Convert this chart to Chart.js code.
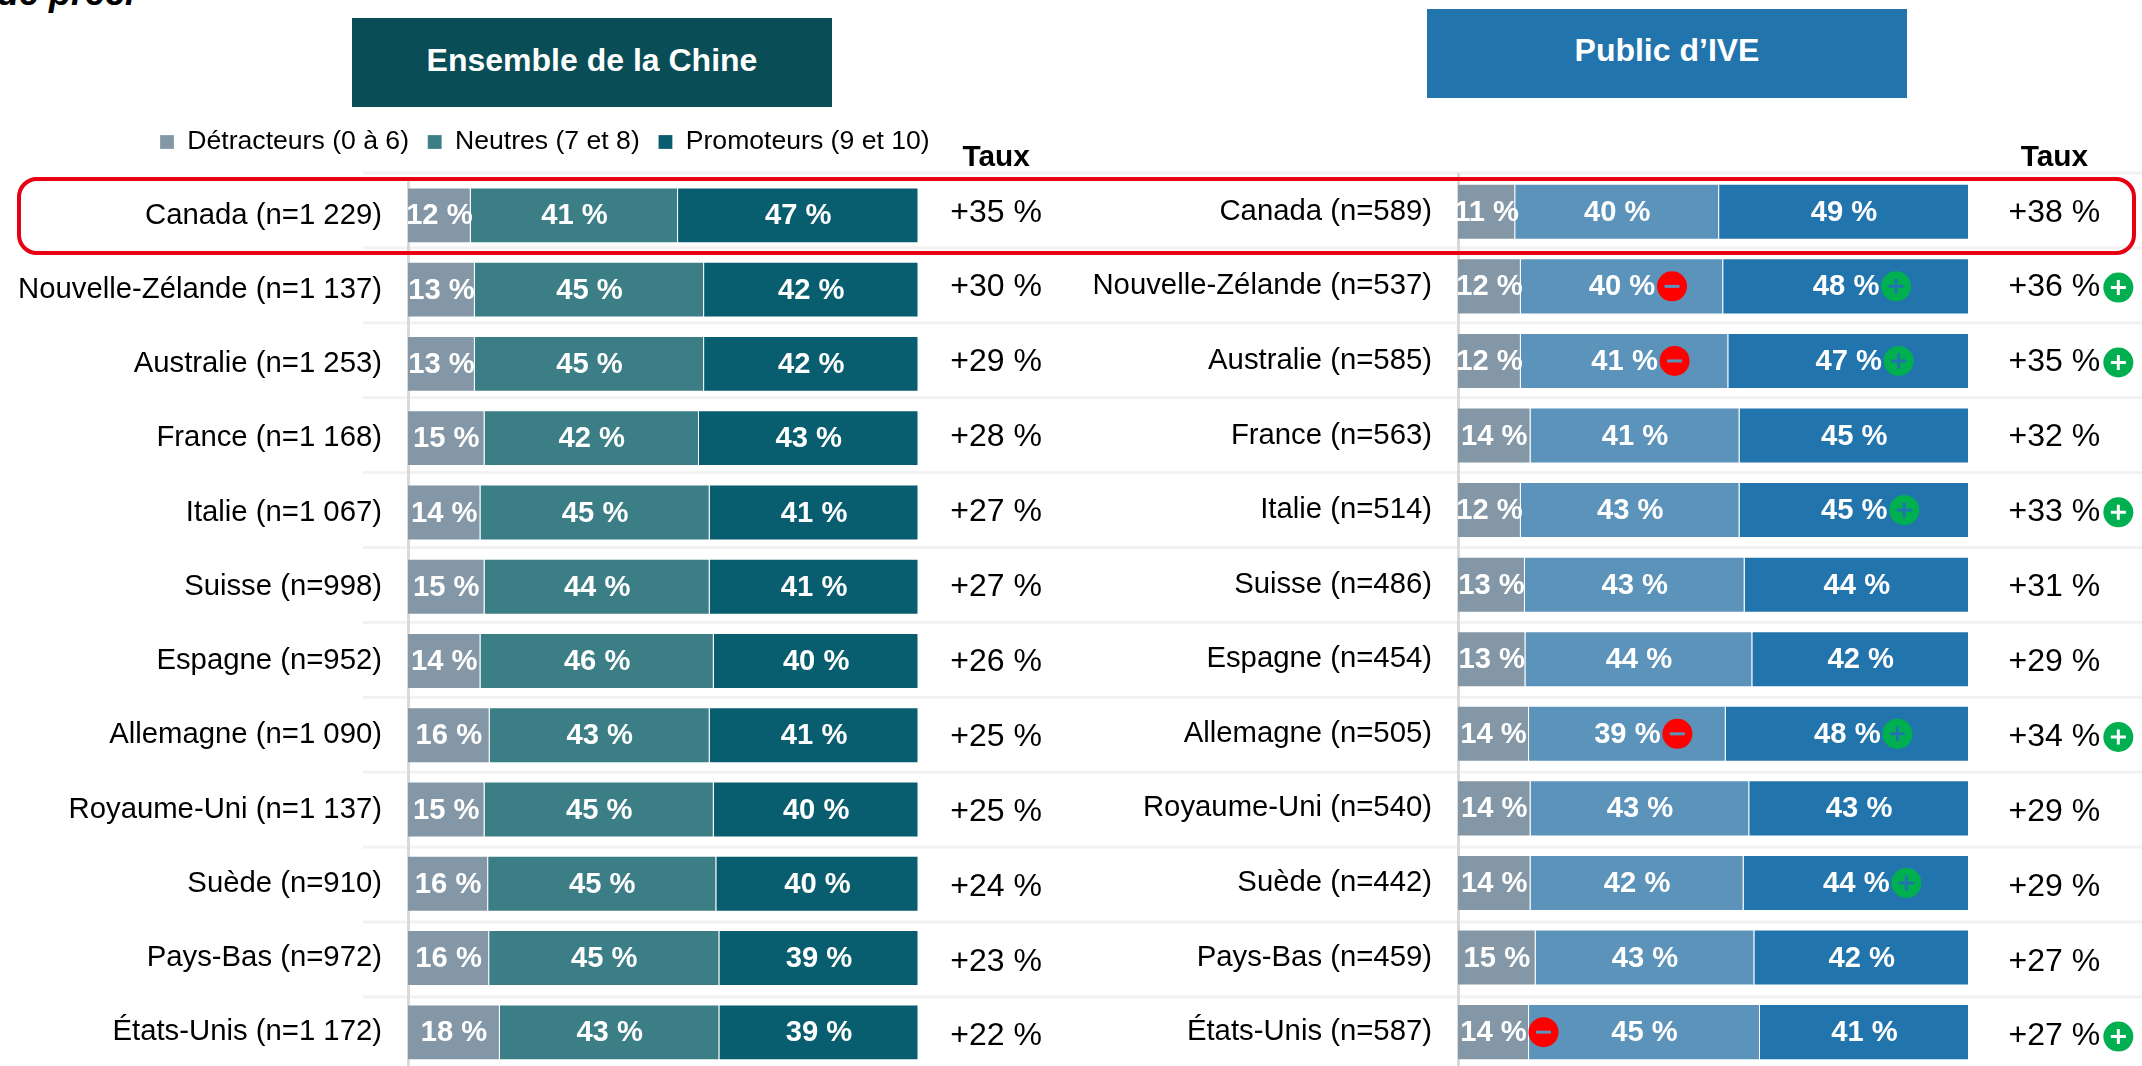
<!DOCTYPE html>
<html lang="fr">
<head>
<meta charset="utf-8">
<title>Taux de recommandation</title>
<script src="https://cdn.jsdelivr.net/npm/chart.js@4"></script>
<style>
html,body{margin:0;padding:0;background:#fff;width:2142px;height:1066px;overflow:hidden;font-family:"Liberation Sans",Arial,sans-serif}
canvas{position:absolute;left:0;top:0}
.box{position:absolute;color:#fff;font-weight:bold;font-size:32px;text-align:center;width:480px;height:89px}
.frame{position:absolute;left:17px;top:177px;width:2111px;height:70px;border:4px solid #E60012;border-radius:20px;pointer-events:none}
.cut{position:absolute;left:-3px;top:-28px;font:italic bold 36px "Liberation Sans",Arial,sans-serif;color:#000;white-space:nowrap}
</style>
</head>
<body>
<div class="cut">de préci</div>
<div class="box" style="left:352px;top:18px;background:#094D57;line-height:84px">Ensemble de la Chine</div>
<div class="box" style="left:1427px;top:9px;background:#2274AD;line-height:82px">Public d’IVE</div>
<canvas id="left" width="1100" height="1113"></canvas>
<canvas id="right" width="2142" height="1113"></canvas>
<div class="frame"></div>
<script>
const countries = ['Canada','Nouvelle-Zélande','Australie','France','Italie','Suisse','Espagne','Allemagne','Royaume-Uni','Suède','Pays-Bas','États-Unis'];
const seriesNames = ['Détracteurs (0 à 6)','Neutres (7 et 8)','Promoteurs (9 et 10)'];

const nChine = ['1 229','1 137','1 253','1 168','1 067','998','952','1 090','1 137','910','972','1 172'];
const detChine = [12.3,13.1,13.1,15.0,14.2,15.0,14.2,16.0,15.0,15.7,15.9,18.0];
const neuChine = [40.6,44.9,44.9,42.0,44.9,44.1,45.7,43.1,44.9,44.7,45.1,43.0];
const proChine = [47.1,42.0,42.0,43.0,40.9,40.9,40.1,40.9,40.1,39.6,39.0,39.0];
const tauxChine = [35,30,29,28,27,27,26,25,25,24,23,22];

const nIve = ['589','537','585','563','514','486','454','505','540','442','459','587'];
const detIve = [11.2,12.3,12.3,14.2,12.3,13.1,13.2,13.9,14.2,14.2,15.2,13.9];
const neuIve = [39.9,39.6,40.6,40.9,42.8,43.0,44.4,38.5,42.8,41.7,42.8,45.2];
const proIve = [48.9,48.1,47.1,44.9,44.9,43.9,42.4,47.6,43.0,44.1,42.0,40.9];
const tauxIve = [38,36,35,32,33,31,29,34,29,29,27,27];

// significance markers (country indices) for the IVE panel
const detMinus = [11];
const neuMinus = [1,2,7];
const proPlus = [1,2,4,7,9];
const tauxPlus = [1,2,4,7,11];

const FONT = '"Liberation Sans", Arial, sans-serif';
const SEP_TOP = 173, SEP_STEP = 74.9, SEP_COUNT = 12;
const TAUX_TOP = 212.7, TAUX_STEP = 74.9;

function marker(ctx, x, y, plus, glyphColor){
  ctx.save();
  ctx.beginPath(); ctx.arc(x, y, 15, 0, Math.PI*2);
  ctx.fillStyle = plus ? '#00B050' : '#FF0000'; ctx.fill();
  ctx.strokeStyle = glyphColor; ctx.lineWidth = 3;
  ctx.beginPath(); ctx.moveTo(x-7.5, y); ctx.lineTo(x+7.5, y);
  if(plus){ ctx.moveTo(x, y-7.5); ctx.lineTo(x, y+7.5); }
  ctx.stroke();
  ctx.restore();
}

function panelPlugin(cfg){
  return {
    id:'panel',
    beforeDraw(chart){
      const ctx = chart.ctx;
      ctx.save();
      ctx.fillStyle = '#F2F2F2';
      for(let i=0;i<SEP_COUNT;i++){
        ctx.fillRect(cfg.sepFrom, SEP_TOP+SEP_STEP*i-1.5, cfg.sepTo-cfg.sepFrom, 3);
      }
      ctx.restore();
    },
    afterDatasetsDraw(chart){
      const ctx = chart.ctx, xs = chart.scales.x;
      ctx.save();
      ctx.textBaseline='middle'; ctx.textAlign='center';
      ctx.font = 'bold 29.2px '+FONT; ctx.fillStyle='#fff';
      chart.data.datasets.forEach((ds,d)=>{
        chart.getDatasetMeta(d).data.forEach((bar,i)=>{
          ctx.fillText(Math.round(ds.data[i])+' %', (bar.x+bar.base)/2, bar.y+1);
        });
      });
      const tx = xs.getPixelForValue(cfg.tauxAt);
      ctx.fillStyle='#000';
      ctx.font='bold 29.8px '+FONT;
      ctx.fillText('Taux', tx, 158);
      ctx.font='32px '+FONT;
      cfg.taux.forEach((v,i)=>ctx.fillText('+'+v+' %', tx, TAUX_TOP+TAUX_STEP*i));
      (cfg.marks||[]).forEach(m=>{
        const meta = chart.getDatasetMeta(m.ds);
        m.rows.forEach(i=>{
          const bar = meta.data[i];
          marker(ctx,(bar.x+bar.base)/2+50,bar.y,m.plus,m.glyph);
        });
      });
      (cfg.tauxMarks||[]).forEach(i=>marker(ctx,tx+64,TAUX_TOP+TAUX_STEP*i,true,'#fff'));
      ctx.restore();
    }
  };
}

function build(id, labels, dets, neus, pros, colors, o){
  return new Chart(document.getElementById(id),{
    type:'bar',
    data:{
      labels,
      datasets:[dets,neus,pros].map((data,k)=>({
        label:seriesNames[k], data, backgroundColor:colors[k],
        borderColor:'rgba(255,255,255,0.22)', borderWidth:1,
        categoryPercentage:1, barPercentage:56/74.5, stack:'s'
      }))
    },
    options:{
      indexAxis:'y', responsive:false, animation:false,
      layout:{padding:{top:o.padTop,right:o.padRight,bottom:o.padBottom,left:o.padLeft}},
      plugins:{
        tooltip:{enabled:false},
        legend:o.legend
      },
      scales:{
        x:{position:'top',stacked:true,min:0,max:o.xMax,
           grid:{display:false},border:{display:false},ticks:{display:false},
           afterFit(s){s.height=o.xGap;}},
        y:{stacked:true,
           grid:{display:false,drawTicks:false},
           border:{display:true,color:'#D9D9D9',width:3},
           ticks:{color:'#000',padding:26,font:{family:FONT,size:29.3},autoSkip:false},
           afterFit(s){s.width=o.axisW;}}
      }
    },
    plugins:[panelPlugin(o.panel)]
  });
}

build('left', countries.map((c,i)=>`${c} (n=${nChine[i]})`), detChine, neuChine, proChine,
  ['#8497A6','#3B7E86','#085E6E'],
  {padTop:110,padRight:28.35,padBottom:32,padLeft:18,axisW:390,xGap:13,xMax:130,
   legend:{display:true,position:'top',fullSize:true,align:'center',
     labels:{color:'#000',boxWidth:14,boxHeight:14,padding:18.7,font:{family:FONT,size:26.6}}},
   panel:{sepFrom:363,sepTo:1100,tauxAt:115.2,taux:tauxChine}});

build('right', countries.map((c,i)=>`${c} (n=${nIve[i]})`), detIve, neuIve, proIve,
  ['#8497A6','#5B93BB','#2274AD'],
  {padTop:174.5,padRight:173,padBottom:31,padLeft:0,axisW:1458,xGap:0,xMax:100,
   legend:{display:false},
   panel:{sepFrom:1100,sepTo:2142,tauxAt:116.7,taux:tauxIve,tauxMarks:tauxPlus,
     marks:[{ds:0,rows:detMinus,plus:false,glyph:'#5B93BB'},
            {ds:1,rows:neuMinus,plus:false,glyph:'#5B93BB'},
            {ds:2,rows:proPlus,plus:true,glyph:'#2274AD'}]}});
</script>
</body>
</html>
